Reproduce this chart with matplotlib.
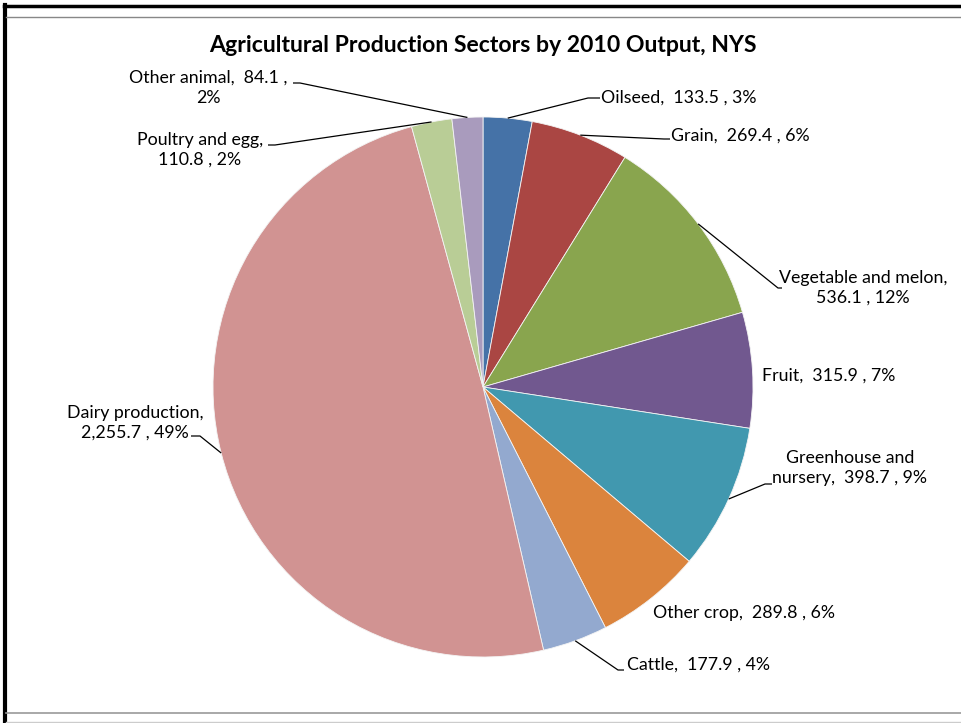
import numpy as np
import matplotlib
matplotlib.use("Agg")
import matplotlib.pyplot as plt
from matplotlib.lines import Line2D

plt.rcParams["font.family"] = ["Lato", "DejaVu Sans"]

# 2010 output by sector (millions of dollars)
sectors = ["Oilseed", "Grain", "Vegetable and melon", "Fruit",
           "Greenhouse and nursery", "Other crop", "Cattle",
           "Dairy production", "Poultry and egg", "Other animal"]
output = [133.5, 269.4, 536.1, 315.9, 398.7, 289.8, 177.9, 2255.7, 110.8, 84.1]
colors = ["#4572A7", "#AA4643", "#89A54E", "#71588F", "#4198AF",
          "#DB843D", "#93A9CF", "#D19392", "#B9CD96", "#A99BBD"]
label_text = [
    "Oilseed,  133.5 , 3%",
    "Grain,  269.4 , 6%",
    "Vegetable and melon,\n536.1 , 12%",
    "Fruit,  315.9 , 7%",
    "Greenhouse and\nnursery,  398.7 , 9%",
    "Other crop,  289.8 , 6%",
    "Cattle,  177.9 , 4%",
    "Dairy production,\n2,255.7 , 49%",
    "Poultry and egg,\n110.8 , 2%",
    "Other animal,  84.1 ,\n2%",
]

W, H = 961, 723
CX, CY, R = 483, 387, 270

fig = plt.figure(figsize=(W / 100, H / 100), dpi=100)
ax = fig.add_axes([0, 0, 1, 1])


def py(y):
    # pixel row (top-down) -> axes y
    return H - y


ax.pie(output, colors=colors, startangle=90, counterclock=False,
       center=(CX, py(CY)), radius=R, frame=True,
       wedgeprops=dict(linewidth=0.6, edgecolor="#f4f4f4"))
ax.set_xlim(0, W)
ax.set_ylim(0, H)
ax.set_aspect("equal")
ax.axis("off")

# mid angle of each wedge, measured clockwise from 12 o'clock
vals = np.array(output)
cum = np.cumsum(vals) - vals / 2
mid = cum / vals.sum() * 2 * np.pi
edge_x = CX + R * np.sin(mid)
edge_y = CY - R * np.cos(mid)

# label placement: (x, y, ha, leader knee, leader end) in pixels
layout = [
    (601, 98, "left", (588, 98), (600, 98)),
    (671, 136, "left", (664, 139), (670, 139)),
    (863, 288, "center", (778, 288), (782, 288)),
    (762, 376, "left", None, None),
    (850, 468, "center", (765, 484), (772, 484)),
    (653, 613, "left", None, None),
    (627, 665, "left", (618, 670), (624, 670)),
    (135, 423, "center", (200, 436), (191, 436)),
    (200, 150, "center", (275, 145), (268, 145)),
    (208, 88, "center", (300, 83), (293, 83)),
]

for i, (tx, ty, ha, knee, end) in enumerate(layout):
    ax.text(tx, py(ty), label_text[i], ha=ha, va="center",
            multialignment="center", fontsize=12.8, color="black",
            linespacing=1.3)
    if knee is not None:
        ax.plot([edge_x[i], knee[0], end[0]],
                [py(edge_y[i]), py(knee[1]), py(end[1])],
                color="black", lw=0.9, solid_capstyle="butt")

ax.text(483, py(45), "Agricultural Production Sectors by 2010 Output, NYS",
        ha="center", va="center", fontsize=16.6, fontweight="bold")

# frame lines around the chart area
fig.add_artist(Line2D([4 / W, 1], [1 - 6 / H] * 2, color="black", lw=2.5,
                      transform=fig.transFigure))
fig.add_artist(Line2D([5 / W, 5 / W], [0, 1 - 5 / H], color="black", lw=3,
                      transform=fig.transFigure))
fig.add_artist(Line2D([6 / W, 1], [1 - 17 / H] * 2, color="#888888", lw=1,
                      transform=fig.transFigure))
fig.add_artist(Line2D([6 / W, 1], [1 - 713 / H] * 2, color="#999999", lw=1.2,
                      transform=fig.transFigure))
fig.add_artist(Line2D([6 / W, 1], [1 - 722 / H] * 2, color="#cccccc", lw=1,
                      transform=fig.transFigure))

fig.savefig("out.png", dpi=100, facecolor="white")
